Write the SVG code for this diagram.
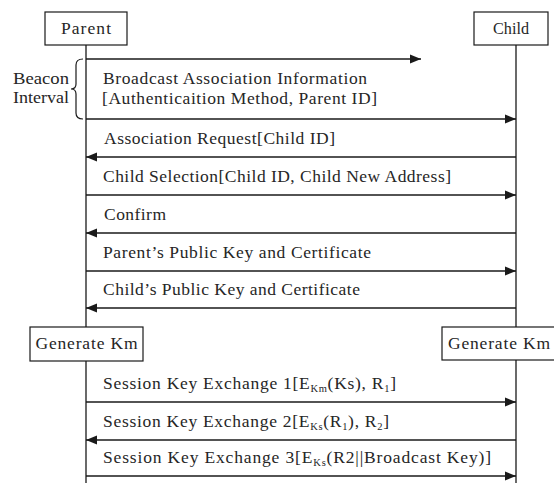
<svg xmlns="http://www.w3.org/2000/svg" width="554" height="483" viewBox="0 0 554 483">
<defs>
<style>
text{font-family:"Liberation Serif","Times New Roman",serif;font-size:17.5px;fill:#262626}
.box{fill:#fff;stroke:#1a1a1a;stroke-width:1.2}
.life{stroke:#1a1a1a;stroke-width:1.3;fill:none}
.msg{stroke:#1a1a1a;stroke-width:1.4;fill:none;marker-end:url(#ah)}
.sub{font-size:10.5px}
</style>
<marker id="ah" markerUnits="userSpaceOnUse" markerWidth="12" markerHeight="10" refX="11" refY="5" orient="auto">
<path d="M0,0.5 L11,5 L0,9.5 z" fill="#1a1a1a"/>
</marker>
</defs>
<rect width="554" height="483" fill="#fff"/>

<g id="lifelines">
<line class="life" x1="86" y1="45" x2="86" y2="327"/>
<line class="life" x1="86" y1="361" x2="86" y2="483"/>
<line class="life" x1="516" y1="45" x2="516" y2="327"/>
<line class="life" x1="516" y1="360" x2="516" y2="483"/>
</g>

<g id="parent">
<rect class="box" x="45" y="12" width="82" height="33"/>
<text x="86" y="34" text-anchor="middle" textLength="50" lengthAdjust="spacing">Parent</text>
</g>
<g id="child">
<rect class="box" x="474" y="12" width="74" height="33"/>
<text x="511" y="34" text-anchor="middle" textLength="36" lengthAdjust="spacingAndGlyphs">Child</text>
</g>

<g id="beacon">
<text x="69" y="84" text-anchor="end" textLength="56" lengthAdjust="spacingAndGlyphs">Beacon</text>
<text x="69" y="103" text-anchor="end" textLength="56" lengthAdjust="spacingAndGlyphs">Interval</text>
<path d="M83,59 Q76,59 76,65 L76,84 Q76,89 71,89 Q76,89 76,94 L76,113 Q76,119 83,119" fill="none" stroke="#1a1a1a" stroke-width="1.2"/>
</g>

<g id="genkm-parent">
<rect class="box" x="30" y="327" width="113" height="34"/>
<text x="86.5" y="349" text-anchor="middle" textLength="102" lengthAdjust="spacing">Generate Km</text>
</g>
<g id="genkm-child">
<rect class="box" x="442" y="327" width="113" height="33"/>
<text x="499" y="349" text-anchor="middle" textLength="102" lengthAdjust="spacing">Generate Km</text>
</g>

<g id="connectors">
<line class="msg" x1="86" y1="59" x2="421" y2="59"/>
<line class="msg" x1="86" y1="119" x2="516" y2="119"/>
<line class="msg" x1="516" y1="157" x2="86" y2="157"/>
<line class="msg" x1="86" y1="195" x2="516" y2="195"/>
<line class="msg" x1="516" y1="233" x2="86" y2="233"/>
<line class="msg" x1="86" y1="271" x2="516" y2="271"/>
<line class="msg" x1="516" y1="308" x2="86" y2="308"/>
<line class="msg" x1="86" y1="402" x2="516" y2="402"/>
<line class="msg" x1="516" y1="440" x2="86" y2="440"/>
<line class="msg" x1="86" y1="476" x2="516" y2="476"/>
</g>

<g id="labels">
<text x="103" y="84" textLength="264" lengthAdjust="spacing">Broadcast Association Information</text>
<text x="102" y="104" textLength="275" lengthAdjust="spacing">[Authenticaition Method, Parent ID]</text>
<text x="104" y="144" textLength="231" lengthAdjust="spacing">Association Request[Child ID]</text>
<text x="103" y="182" textLength="348" lengthAdjust="spacing">Child Selection[Child ID, Child New Address]</text>
<text x="104" y="220" textLength="62" lengthAdjust="spacing">Confirm</text>
<text x="103" y="258" textLength="268" lengthAdjust="spacing">Parent’s Public Key and Certificate</text>
<text x="103" y="295" textLength="257" lengthAdjust="spacing">Child’s Public Key and Certificate</text>
<text x="103" y="389" textLength="293" lengthAdjust="spacing">Session Key Exchange 1[E<tspan class="sub" dy="3">Km</tspan><tspan dy="-3">(Ks), R</tspan><tspan class="sub" dy="3">1</tspan><tspan dy="-3">]</tspan></text>
<text x="103" y="427" textLength="286" lengthAdjust="spacing">Session Key Exchange 2[E<tspan class="sub" dy="3">Ks</tspan><tspan dy="-3">(R</tspan><tspan class="sub" dy="3">1</tspan><tspan dy="-3">), R</tspan><tspan class="sub" dy="3">2</tspan><tspan dy="-3">]</tspan></text>
<text x="103" y="463" textLength="388" lengthAdjust="spacing">Session Key Exchange 3[E<tspan class="sub" dy="3">Ks</tspan><tspan dy="-3">(R2||Broadcast Key)]</tspan></text>
</g>
</svg>
